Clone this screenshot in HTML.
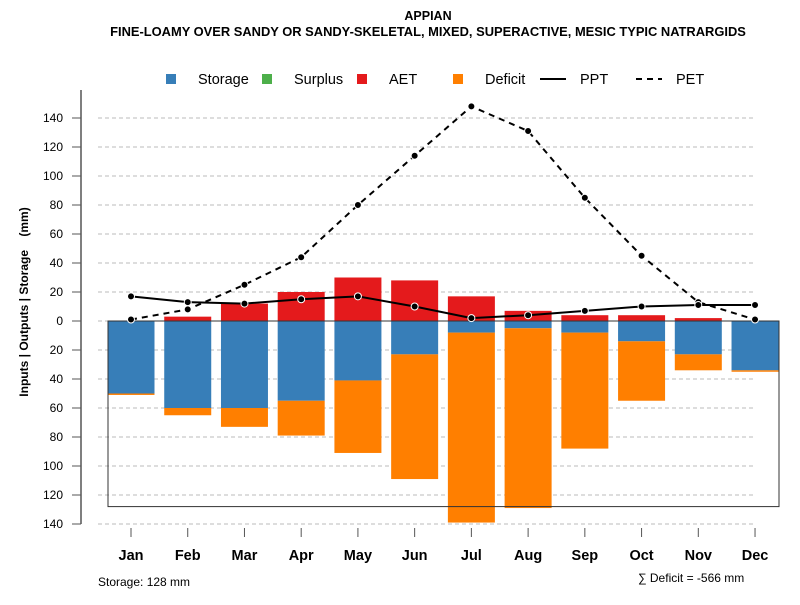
<!DOCTYPE html>
<html><head><meta charset="utf-8"><style>
body{margin:0;background:#fff}
svg text{font-family:"Liberation Sans",Arial,sans-serif}
</style></head><body>
<svg id="chart" width="800" height="600" viewBox="0 0 800 600" xmlns="http://www.w3.org/2000/svg">
<text x="428" y="20" font-size="12.5" font-weight="bold" text-anchor="middle">APPIAN</text>
<text x="428" y="36" font-size="12.9" font-weight="bold" text-anchor="middle">FINE-LOAMY OVER SANDY OR SANDY-SKELETAL, MIXED, SUPERACTIVE, MESIC TYPIC NATRARGIDS</text>
<g id="grid"></g><g id="bars"></g><g id="lines"></g><g id="axes"></g>
<g font-size="14.5">
<rect x="166" y="74" width="10" height="10" fill="#377EB8"/>
<text x="198" y="84">Storage</text>
<rect x="262" y="74" width="10" height="10" fill="#4DAF4A"/>
<text x="294" y="84">Surplus</text>
<rect x="357" y="74" width="10" height="10" fill="#E41A1C"/>
<text x="389" y="84">AET</text>
<rect x="453" y="74" width="10" height="10" fill="#FF7F00"/>
<text x="485" y="84">Deficit</text>
<line x1="540" y1="79" x2="566" y2="79" stroke="#000" stroke-width="2"/>
<text x="580" y="84">PPT</text>
<line x1="636" y1="79" x2="662" y2="79" stroke="#000" stroke-width="2" stroke-dasharray="6,5"/>
<text x="676" y="84">PET</text>
</g>
<text transform="translate(28,302) rotate(-90)" font-size="12" font-weight="bold" text-anchor="middle">Inputs | Outputs | Storage&#160;&#160;&#160;&#160;(mm)</text>
<text x="98" y="586" font-size="12">Storage: 128 mm</text>
<text x="638" y="582" font-size="12">∑ Deficit = -566 mm</text>
</svg>
<script>
const months=["Jan","Feb","Mar","Apr","May","Jun","Jul","Aug","Sep","Oct","Nov","Dec"];
const storage=[50,60,60,55,41,23,8,5,8,14,23,34];
const deficit=[1,5,13,24,50,86,131,124,80,41,11,1];
const aet=[0,3,12,20,30,28,17,7,4,4,2,0];
const ppt=[17,13,12,15,17,10,2,4,7,10,11,11];
const pet=[1,8,25,44,80,114,148,131,85,45,13,1];
const yTicks=[140,120,100,80,60,40,20,0,20,40,60,80,100,120,140];
const capacity=128;
const NS="http://www.w3.org/2000/svg";
const y=v=>321-v*1.45;
const x=i=>131+i*56.73;
function mk(p,t,a){const e=document.createElementNS(NS,t);for(const k in a)e.setAttribute(k,a[k]);document.getElementById(p).appendChild(e);return e;}
const gg="grid";
yTicks.forEach((t,i)=>{const v=140-i*20;
 const l=mk(gg,"line",{x1:98,x2:756,y1:y(v),y2:y(v),stroke:"#bbb","stroke-dasharray":"4,3"});
 
 
 const tk=mk("axes","line",{x1:72,x2:81,y1:y(v),y2:y(v),stroke:"#555"});
 
 
 const tx=mk("axes","text",{x:63,y:y(v)+4,"font-size":12,"text-anchor":"end"});tx.textContent=t;
 
 
});
const ax=mk("axes","line",{x1:81,x2:81,y1:90,y2:y(-140),stroke:"#555","stroke-width":1.5});


const bw=47;
months.forEach((m,i)=>{
 const cx=x(i);
 const a=mk("bars","rect",{x:cx-bw/2,y:y(aet[i]),width:bw,height:aet[i]*1.45,fill:"#E41A1C"});
 
 
 const s=mk("bars","rect",{x:cx-bw/2,y:y(0),width:bw,height:storage[i]*1.45,fill:"#377EB8"});
 
 
 const d=mk("bars","rect",{x:cx-bw/2,y:y(-storage[i]),width:bw,height:deficit[i]*1.45,fill:"#FF7F00"});
 
 
 const tk=mk("axes","line",{x1:cx,x2:cx,y1:528,y2:537,stroke:"#555"});
 
 
 const tx=mk("axes","text",{x:cx,y:560,"font-size":14.5,"font-weight":"bold","text-anchor":"middle"});tx.textContent=m;
 
 
});
const box=mk("bars","rect",{x:108,y:y(0),width:671,height:capacity*1.45,fill:"none",stroke:"#333","stroke-width":1});


function series(vals,name,dash){
 const pts=vals.map((v,i)=>x(i)+","+y(v)).join(" ");
 const pl=mk("lines","polyline",{points:pts,fill:"none",stroke:"#000","stroke-width":2,"stroke-dasharray":dash});
 
 
 vals.forEach((v,i)=>{const c=mk("lines","circle",{cx:x(i),cy:y(v),r:3.5,fill:"#000",stroke:"#fff","stroke-width":1});
 
 });
}
series(pet,"pet","6,5");
series(ppt,"ppt","none");
</script>
</body></html>
